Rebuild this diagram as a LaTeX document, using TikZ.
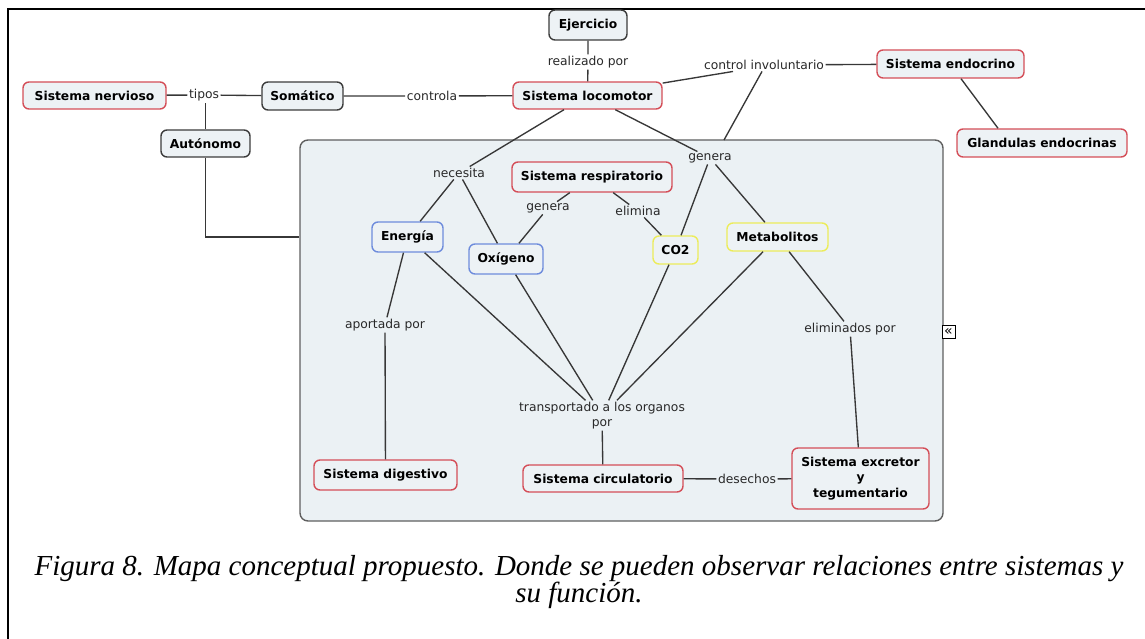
\documentclass[tikz,border=0pt]{standalone}
\usepackage{fontspec}
\setmainfont{DejaVu Sans}
\newfontfamily\capfont{Liberation Serif}
\usetikzlibrary{calc}

\definecolor{nodefill}{RGB}{237,242,245}
\definecolor{boxfill}{RGB}{235,241,244}
\definecolor{boxline}{RGB}{95,95,95}
\definecolor{redline}{RGB}{212,78,88}
\definecolor{darkline}{RGB}{60,60,60}
\definecolor{blueline}{RGB}{110,140,220}
\definecolor{yellowline}{RGB}{236,236,90}
\definecolor{linkline}{RGB}{55,55,55}
\definecolor{linktext}{RGB}{40,40,40}

\begin{document}
\begin{tikzpicture}[x=1pt,y=-1pt,
  concept/.style={draw, rounded corners=6pt, fill=nodefill, line width=1.4pt,
    font=\fontsize{12.3}{15.5}\selectfont\bfseries, inner sep=0pt, align=center},
  redc/.style={concept, draw=redline},
  darkc/.style={concept, draw=darkline},
  bluec/.style={concept, draw=blueline},
  yelc/.style={concept, draw=yellowline},
  link/.style={font=\fontsize{12.3}{15}\selectfont, text=linktext, inner sep=1.5pt, align=center},
  conn/.style={draw=linkline, line width=1.35pt},
]
\useasboundingbox (0,0) rectangle (1145,639);

% page frame
\draw[line width=2.2pt] (8,639) -- (8,9) -- (1145,9);

% nested map area
\node[draw=boxline, fill=boxfill, line width=1.4pt, rounded corners=8pt,
      minimum width=643pt, minimum height=381pt, inner sep=0pt] (mapbox) at (621.5,330.5) {};
\node[draw, fill=white, line width=0.8pt, minimum size=13pt, inner sep=0pt,
      font=\fontsize{14}{14}\selectfont] (collapse) at (948.5,331.5) {«};

% concepts
\node[redc,  minimum width=143pt, minimum height=27pt] (nerv)  at (94.5,95.5)  {Sistema nervioso};
\node[darkc, minimum width=81pt,  minimum height=28pt] (soma)  at (302.5,96)   {Somático};
\node[darkc, minimum width=89pt,  minimum height=27pt] (auto)  at (205.5,143.5){Autónomo};
\node[darkc, minimum width=78pt,  minimum height=30pt] (ejer)  at (588,25)     {Ejercicio};
\node[redc,  minimum width=149pt, minimum height=27pt] (loco)  at (587.5,95.5) {Sistema locomotor};
\node[redc,  minimum width=147pt, minimum height=28pt] (endo)  at (950.5,64)   {Sistema endocrino};
\node[redc,  minimum width=170pt, minimum height=28pt] (gland) at (1042,143)   {Glandulas endocrinas};
\node[redc,  minimum width=160pt, minimum height=30pt] (resp)  at (592,177)    {Sistema respiratorio};
\node[bluec, minimum width=71pt,  minimum height=30pt] (ener)  at (407.5,237)  {Energía};
\node[bluec, minimum width=74pt,  minimum height=30pt] (oxi)   at (506,259)    {Oxígeno};
\node[yelc,  minimum width=45pt,  minimum height=28pt] (co2)   at (675.5,250)  {CO2};
\node[yelc,  minimum width=101pt, minimum height=28pt] (meta)  at (777.5,237)  {Metabolitos};
\node[redc,  minimum width=143pt, minimum height=30pt] (dig)   at (385.5,475)  {Sistema digestivo};
\node[redc,  minimum width=160pt, minimum height=27pt] (circ)  at (603,478.5)  {Sistema circulatorio};
\node[redc,  minimum width=137pt, minimum height=61pt] (excr)  at (860.5,478.5){Sistema excretor\\y\\tegumentario};

% linking phrases
\node[link] (tipos)     at (204,95)    {tipos};
\node[link] (controla)  at (432,96)    {controla};
\node[link] (realizado) at (588,62)    {realizado por};
\node[link] (ctrl)      at (764,65)    {control involuntario};
\node[link] (necesita)  at (459,173)   {necesita};
\node[link] (genT)      at (710,158)   {genera};
\node[link] (genR)      at (548,208)   {genera};
\node[link] (elim)      at (638,211)   {elimina};
\node[link] (aport)     at (385,325)   {aportada por};
\node[link] (transp)    at (602,415.5) {transportado a los organos\\por};
\node[link] (elimp)     at (850,329)   {eliminados por};
\node[link] (dese)      at (747,479)   {desechos};

\coordinate (boxin) at (724,140);

% connectors
\draw[conn] (nerv) -- (tipos) -- (soma);
\draw[conn] (auto) -- (auto |- tipos.south);
\draw[conn] (auto.south) |- (mapbox.west |- ener);
\draw[conn] (soma) -- (controla) -- (loco);
\draw[conn] (ejer) -- (realizado) -- (loco);
\draw[conn] (loco) -- ([xshift=-31pt]ctrl.south);
\draw[conn] (ctrl) -- (endo);
\draw[conn] ([xshift=-2pt]ctrl.south) -- (boxin);
\draw[conn] ([xshift=10.5pt]endo.south) -- ([xshift=-44pt]gland.north);
\draw[conn] (loco) -- (necesita) -- (ener);
\draw[conn] (necesita) -- (oxi);
\draw[conn] (loco) -- (genT) -- (co2);
\draw[conn] (genT) -- (meta);
\draw[conn] (resp) -- (genR) -- (oxi);
\draw[conn] (resp) -- (elim) -- (co2);
\draw[conn] (ener) -- (aport) -- (dig);
\draw[conn] (ener) -- (transp);
\draw[conn] (oxi) -- (transp);
\draw[conn] (co2) -- (transp);
\draw[conn] (meta) -- (transp);
\draw[conn] (transp) -- (circ);
\draw[conn] (meta) -- (elimp) -- (excr);
\draw[conn] (circ) -- (dese) -- (excr);

% caption
\node[font=\capfont\itshape\fontsize{29}{27.5}\selectfont, align=center, inner sep=0pt] (caption) at (579,582)
  {Figura 8. Mapa conceptual propuesto. Donde se pueden observar relaciones entre sistemas y\\su función.};
\end{tikzpicture}
\end{document}
